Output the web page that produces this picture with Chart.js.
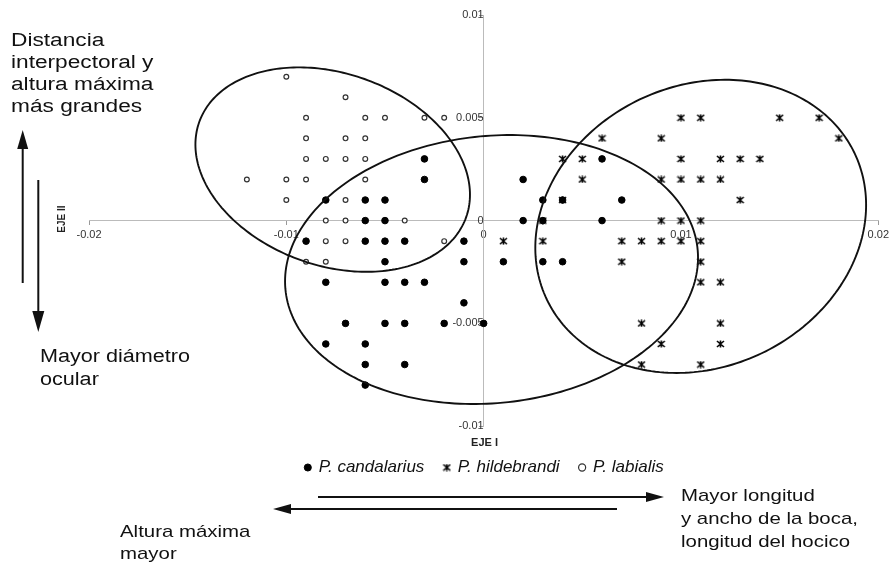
<!DOCTYPE html>
<html><head><meta charset="utf-8">
<script src="https://cdn.jsdelivr.net/npm/chart.js@4.4.1/dist/chart.umd.min.js"></script>
<style>
html,body{margin:0;padding:0;background:#fff;}
#wrap{position:relative;width:893px;height:565px;overflow:hidden;font-family:"Liberation Sans",Arial,sans-serif;color:#111;}
#c{position:absolute;left:0;top:0;}
svg{position:absolute;left:0;top:0;}
.note{position:absolute;font-size:18px;line-height:22px;transform:scaleX(1.2);transform-origin:0 0;white-space:nowrap;}
#ejeII{position:absolute;left:61px;top:219px;font-size:10px;font-weight:bold;transform:translate(-50%,-50%) rotate(-90deg);white-space:nowrap;color:#222;}
</style></head><body>
<div id="wrap">
<canvas id="c" width="893" height="565"></canvas>
<svg width="893" height="565">
  <g stroke="#111" stroke-width="2" fill="#111">
    <line x1="22.7" y1="283" x2="22.7" y2="146"/>
    <polygon points="22.7,130 17.2,149 28.2,149" stroke="none"/>
    <line x1="38.3" y1="180" x2="38.3" y2="314"/>
    <polygon points="38.3,332 32.3,311 44.3,311" stroke="none"/>
    <line x1="318" y1="497" x2="650" y2="497"/>
    <polygon points="664,497 646,492 646,502" stroke="none"/>
    <line x1="617" y1="509" x2="287" y2="509"/>
    <polygon points="273,509 291,504 291,514" stroke="none"/>
  </g>
</svg>
<div class="note" style="left:11px;top:29px;transform:scaleX(1.26)">Distancia<br>interpectoral y<br>altura máxima<br>más grandes</div>
<div class="note" style="left:40px;top:345px;line-height:23px">Mayor diámetro<br>ocular</div>
<div class="note" style="left:681px;top:484px;line-height:23px;font-size:17px;">Mayor longitud<br>y ancho de la boca,<br>longitud del hocico</div>
<div class="note" style="left:120px;top:521px;font-size:17px;">Altura máxima<br>mayor</div>
<div id="ejeII">EJE II</div>
</div>
<script>
// ---- data ----
const xTickValues = [-0.02, -0.01, 0, 0.01, 0.02];
const xTickLabels = ['-0.02', '-0.01', '0', '0.01', '0.02'];
const yTickValues = [-0.01, -0.005, 0, 0.005, 0.01];
const yTickLabels = ['-0.01', '-0.005', '0', '0.005', '0.01'];

const seriesNames = ['P. candalarius', 'P. hildebrandi', 'P. labialis'];

const candalarius = [
  [-0.003,0.003],[-0.003,0.002],
  [-0.008,0.001],[-0.006,0.001],[-0.005,0.001],
  [-0.006,0],[-0.005,0],
  [-0.009,-0.001],[-0.006,-0.001],[-0.005,-0.001],[-0.004,-0.001],[-0.001,-0.001],
  [-0.005,-0.002],[-0.001,-0.002],
  [-0.008,-0.003],[-0.005,-0.003],[-0.004,-0.003],[-0.003,-0.003],
  [-0.001,-0.004],
  [-0.007,-0.005],[-0.005,-0.005],[-0.004,-0.005],[-0.002,-0.005],[0,-0.005],
  [-0.008,-0.006],[-0.006,-0.006],
  [-0.006,-0.007],[-0.004,-0.007],
  [-0.006,-0.008],
  [0.002,0.002],[0.006,0.003],
  [0.003,0.001],[0.004,0.001],[0.007,0.001],
  [0.002,0],[0.003,0],[0.006,0],
  [0.001,-0.002],[0.003,-0.002],[0.004,-0.002]
];

const hildebrandi = [
  [0.010,0.005],[0.011,0.005],[0.015,0.005],[0.017,0.005],
  [0.006,0.004],[0.009,0.004],[0.018,0.004],
  [0.004,0.003],[0.005,0.003],[0.010,0.003],[0.012,0.003],[0.013,0.003],[0.014,0.003],
  [0.005,0.002],[0.009,0.002],[0.010,0.002],[0.011,0.002],[0.012,0.002],
  [0.004,0.001],[0.013,0.001],
  [0.003,0],[0.009,0],[0.010,0],[0.011,0],
  [0.001,-0.001],[0.003,-0.001],[0.007,-0.001],[0.008,-0.001],[0.009,-0.001],[0.010,-0.001],[0.011,-0.001],
  [0.007,-0.002],[0.011,-0.002],
  [0.011,-0.003],[0.012,-0.003],
  [0.008,-0.005],[0.012,-0.005],
  [0.009,-0.006],[0.012,-0.006],
  [0.008,-0.007],[0.011,-0.007]
];

const labialis = [
  [-0.010,0.007],[-0.007,0.006],
  [-0.009,0.005],[-0.006,0.005],[-0.005,0.005],[-0.003,0.005],[-0.002,0.005],
  [-0.009,0.004],[-0.007,0.004],[-0.006,0.004],
  [-0.009,0.003],[-0.008,0.003],[-0.007,0.003],[-0.006,0.003],
  [-0.012,0.002],[-0.010,0.002],[-0.009,0.002],[-0.006,0.002],
  [-0.010,0.001],[-0.007,0.001],
  [-0.008,0],[-0.007,0],[-0.004,0],
  [-0.008,-0.001],[-0.007,-0.001],[-0.002,-0.001],
  [-0.009,-0.002],[-0.008,-0.002]
];

// group ellipses (data units): labialis, candalarius, hildebrandi
const ellipseCX = [-0.00765, 0.0004, 0.0110];
const ellipseCY = [0.00248, -0.00238, -0.00028];
const ellipseA = [0.00715, 0.01049, 0.00858];
const ellipseB = [0.00469, 0.0065, 0.00689];
const ellipseAngleDeg = [-17.8, 5.1, 21];

// ---- rendering ----
const FONT = '"Liberation Sans", Arial, sans-serif';
Chart.defaults.font.family = FONT;

function makeStar() {
  const c = document.createElement('canvas');
  c.width = 9; c.height = 8;
  const g = c.getContext('2d');
  g.strokeStyle = '#000'; g.lineWidth = 1.6;
  g.beginPath();
  g.moveTo(1, 1); g.lineTo(8, 7);
  g.moveTo(8, 1); g.lineTo(1, 7);
  g.moveTo(4.5, 0.5); g.lineTo(4.5, 7.5);
  g.stroke();
  return c;
}
const starImg = makeStar();

const toPts = arr => arr.map(p => ({x: p[0], y: p[1]}));

const ellipsePlugin = {
  id: 'ellipses',
  afterDatasetsDraw(chart) {
    const {ctx} = chart;
    const xs = chart.scales.x, ys = chart.scales.y;
    ctx.save();
    ctx.strokeStyle = '#111';
    ctx.lineWidth = 1.9;
    for (let k = 0; k < ellipseCX.length; k++) {
      const ang = ellipseAngleDeg[k] * Math.PI / 180;
      const ca = Math.cos(ang), sa = Math.sin(ang);
      ctx.beginPath();
      for (let i = 0; i <= 240; i++) {
        const t = i / 240 * Math.PI * 2;
        const dx = ellipseA[k] * Math.cos(t), dy = ellipseB[k] * Math.sin(t);
        const vx = ellipseCX[k] + dx * ca - dy * sa;
        const vy = ellipseCY[k] + dx * sa + dy * ca;
        const px = xs.getPixelForValue(vx), py = ys.getPixelForValue(vy);
        if (i === 0) ctx.moveTo(px, py); else ctx.lineTo(px, py);
      }
      ctx.closePath();
      ctx.stroke();
    }
    ctx.restore();
  }
};

new Chart(document.getElementById('c'), {
  type: 'scatter',
  data: {
    datasets: [
      {label: seriesNames[0], data: toPts(candalarius), pointStyle: 'circle', pointRadius: 3.3,
       backgroundColor: '#000', borderColor: '#000', borderWidth: 1},
      {label: seriesNames[1], data: toPts(hildebrandi), pointStyle: starImg, pointRadius: 4,
       backgroundColor: '#111', borderColor: '#111', borderWidth: 1},
      {label: seriesNames[2], data: toPts(labialis), pointStyle: 'circle', pointRadius: 2.4,
       backgroundColor: '#fff', borderColor: '#333', borderWidth: 1.2}
    ]
  },
  options: {
    responsive: false,
    animation: false,
    events: [],
    layout: {padding: {left: 89, right: 13, top: 15, bottom: 79}},
    scales: {
      x: {
        type: 'linear', min: -0.02, max: 0.02, position: {y: 0},
        afterBuildTicks: s => { s.ticks = xTickValues.map(v => ({value: v})); },
        ticks: {callback: (v, i) => xTickLabels[i], font: {size: 11}, color: '#333', padding: 4,
                maxRotation: 0, autoSkip: false},
        grid: {display: true, drawOnChartArea: false, drawTicks: true, tickLength: 4, color: '#999'},
        border: {display: true, color: '#bbb', width: 1}
      },
      y: {
        type: 'linear', min: -0.01, max: 0.01, position: {x: 0},
        afterBuildTicks: s => { s.ticks = yTickValues.map(v => ({value: v})); },
        ticks: {callback: (v, i) => yTickLabels[i], font: {size: 11}, color: '#333', padding: 3,
                autoSkip: false},
        grid: {display: true, drawOnChartArea: false, drawTicks: true, tickLength: 4, color: '#999'},
        border: {display: true, color: '#bbb', width: 1}
      }
    },
    plugins: {
      tooltip: {enabled: false},
      title: {display: true, position: 'bottom', text: 'EJE I', weight: 500,
              font: {size: 11, weight: 'bold'}, color: '#222', padding: {top: 10.5, bottom: -10.9}},
      legend: {position: 'bottom', weight: 3000,
               labels: {usePointStyle: true, boxWidth: 5, boxHeight: 5, padding: 20,
                        font: {size: 17, style: 'italic'}, color: '#111'}}
    }
  },
  plugins: [ellipsePlugin]
});
</script>
</body></html>
